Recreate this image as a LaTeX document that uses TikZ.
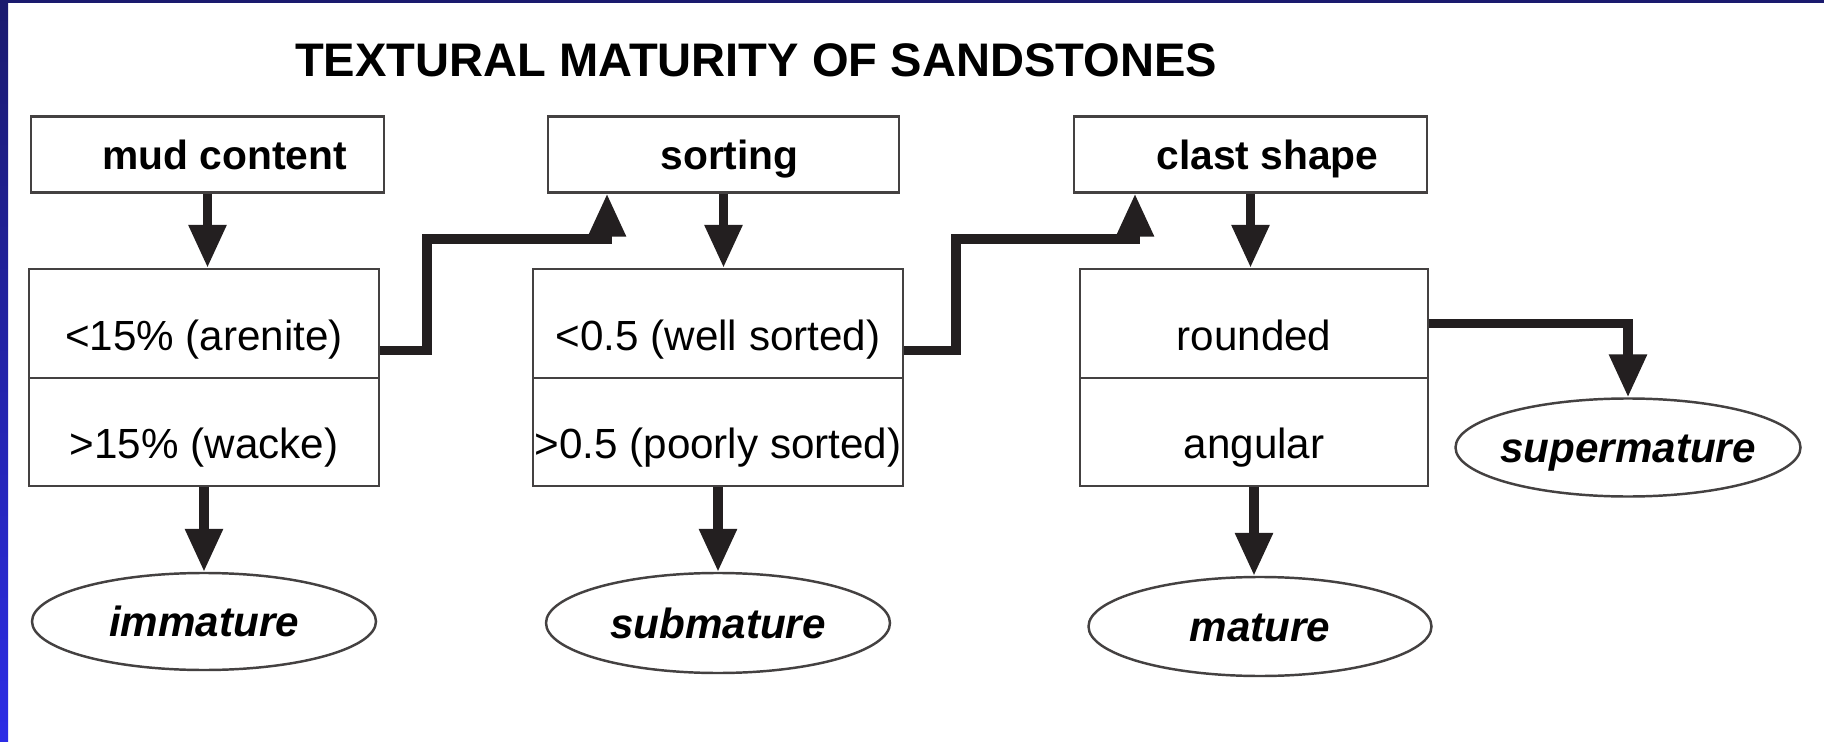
\documentclass[tikz,border=0pt]{standalone}
\usepackage{fontspec}
\setmainfont{Liberation Sans}
\usetikzlibrary{arrows.meta,shapes.geometric}
\definecolor{slidenavy}{HTML}{1A1A6E}
\definecolor{slideblue}{HTML}{2C2CE6}
\definecolor{ink}{HTML}{231F20}

\begin{document}
\begin{tikzpicture}[
    box/.style={draw=ink!85, line width=0.7pt, rectangle, inner sep=0pt},
    head/.style={box, minimum height=0.76cm, text height=0.3cm, text depth=0cm,
        font=\fontsize{11.6}{14}\selectfont\bfseries},
    cond/.style={box, text height=0.53cm, text depth=0cm,
        font=\fontsize{12}{14}\selectfont},
    result/.style={draw=ink!85, line width=0.7pt, ellipse, inner sep=0pt,
        text height=0.3cm, text depth=0cm,
        font=\fontsize{12}{14}\selectfont\bfseries\itshape},
    arr/.style={draw=ink, line width=2.6pt, -{Triangle[width=0.36cm,length=0.43cm]}}]

    \useasboundingbox (0,0) rectangle (18.24,-7.42);
    \fill[white] (0,0) rectangle (18.24,-7.42);
    \shade[top color=slidenavy, bottom color=slideblue] (0,0) rectangle (0.08,-7.42);
    \fill[slidenavy] (0,0) rectangle (18.24,-0.03);

    \node[anchor=base, font=\fontsize{13.4}{16}\selectfont\bfseries] (title) at (7.56,-0.77)
        {TEXTURAL MATURITY OF SANDSTONES};

    \node[head, minimum width=3.53cm] (mud) at (2.075,-1.545) {\hspace*{0.34cm}mud content};
    \node[head, minimum width=3.51cm] (sorting) at (7.235,-1.545) {\hspace*{0.12cm}sorting};
    \node[head, minimum width=3.53cm] (clast) at (12.505,-1.545) {\hspace*{0.34cm}clast shape};

    \node[cond, minimum width=3.50cm, minimum height=1.09cm] (c1top) at (2.04,-3.235) {<15\% (arenite)};
    \node[cond, minimum width=3.50cm, minimum height=1.08cm] (c1bot) at (2.04,-4.32) {>15\% (wacke)};
    \node[cond, minimum width=3.70cm, minimum height=1.09cm] (c2top) at (7.18,-3.235) {<0.5 (well sorted)};
    \node[cond, minimum width=3.70cm, minimum height=1.08cm] (c2bot) at (7.18,-4.32) {>0.5 (poorly sorted)};
    \node[cond, minimum width=3.48cm, minimum height=1.09cm] (c3top) at (12.54,-3.235) {rounded};
    \node[cond, minimum width=3.48cm, minimum height=1.08cm] (c3bot) at (12.54,-4.32) {angular};

    \node[result, minimum width=3.44cm, minimum height=0.97cm] (imm) at (2.04,-6.215) {\makebox[0pt]{immature}};
    \node[result, minimum width=3.44cm, minimum height=1.00cm] (subm) at (7.18,-6.23) {\makebox[0pt]{submature}};
    \node[result, minimum width=3.43cm, minimum height=0.99cm] (mat) at (12.60,-6.265) {\makebox[0pt]{mature}};
    \node[result, minimum width=3.45cm, minimum height=0.98cm] (supm) at (16.28,-4.475) {\makebox[0pt]{supermature}};

    \coordinate (k1) at (4.27,-2.39);
    \coordinate (k2) at (9.56,-2.39);

    \draw[arr] (mud.south) -- (mud.south |- c1top.north);
    \draw[arr] (sorting.south) -- (sorting.south |- c2top.north);
    \draw[arr] (clast.south) -- (clast.south |- c3top.north);

    \draw[arr] (c1bot.south) -- (imm.north);
    \draw[arr] (c2bot.south) -- (subm.north);
    \draw[arr] (c3bot.south) -- (c3bot.south |- mat.north);

    \draw[arr] ([yshift=-2.7mm]c1top.east) -| (k1) -| ([xshift=-11.65mm]sorting.south);
    \draw[arr] ([yshift=-2.7mm]c2top.east) -| (k2) -| ([xshift=-11.55mm]clast.south);
    \draw[arr] (c3top.east) -| (supm.north);

\end{tikzpicture}
\end{document}
